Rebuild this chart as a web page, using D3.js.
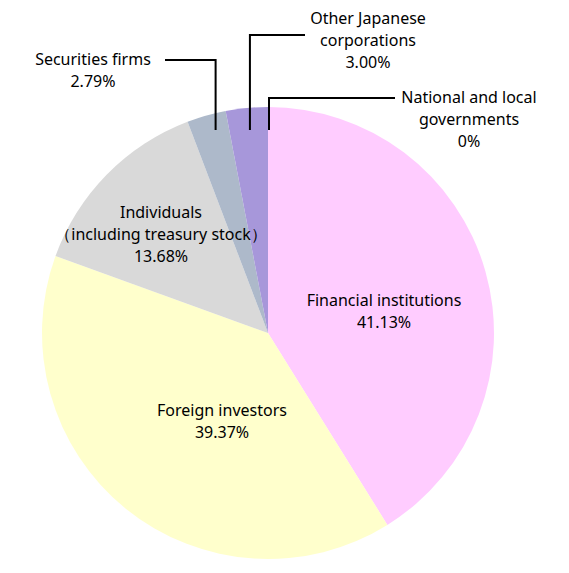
<!DOCTYPE html>
<html>
<head>
<script src="https://d3js.org/d3.v7.min.js"></script>
<style>
body { margin:0; background:#fff; }
svg text { font-family:"Noto Sans", "Open Sans", sans-serif; font-size:16px; fill:#000; }
</style>
</head>
<body>
<script>
var categories = ["Financial institutions", "Foreign investors", "Individuals\uff08including treasury stock\uff09", "Securities firms", "Other Japanese corporations", "National and local governments"];
var values = [41.13, 39.37, 13.68, 2.79, 3.00, 0];
var labels = ["41.13%", "39.37%", "13.68%", "2.79%", "3.00%", "0%"];
var colors = ["#ffccff", "#ffffcc", "#d9d9d9", "#adb9ca", "#a797da", "#8faadc"];

var w = 569, h = 573, cx = 268, cy = 333, r = 226;
var svg = d3.select("body").append("svg").attr("width", w).attr("height", h);
var g = svg.append("g").attr("transform", "translate(" + cx + "," + cy + ")");

var pie = d3.pie().sort(null).value(function(d){ return d; });
var arcs = pie(values);
var arc = d3.arc().innerRadius(0).outerRadius(r);

g.selectAll("path").data(arcs).enter().append("path")
  .attr("d", arc)
  .attr("fill", function(d, i){ return colors[i]; });

function block(x, y, lines, anchor) {
  var t = svg.append("text").attr("x", x).attr("y", y).attr("text-anchor", anchor || "middle");
  lines.forEach(function(l, k){
    t.append("tspan").attr("x", x).attr("dy", k ? 22 : 0).text(l);
  });
}

// inner labels
block(384, 306, ["Financial institutions", labels[0]]);
block(222, 416, ["Foreign investors", labels[1]]);
block(161, 218, ["Individuals", "\uff08including treasury stock\uff09", labels[2]]);

// outer labels with leader lines
var mid = function(i){ var a = (arcs[i].startAngle + arcs[i].endAngle) / 2; return cx + Math.sin(a) * r * 0.85; };
var lineStyle = function(p){ p.attr("fill", "none").attr("stroke", "#000").attr("stroke-width", 2); };

svg.append("path").attr("d", "M" + mid(3) + ",130V60H165").call(lineStyle);
block(93, 65, ["Securities firms", labels[3]]);

svg.append("path").attr("d", "M" + mid(4) + ",130V35H305").call(lineStyle);
block(368, 24, ["Other Japanese", "corporations", labels[4]]);

svg.append("path").attr("d", "M" + (cx + 1) + ",130V98H395").call(lineStyle);
block(469, 103, ["National and local", "governments", labels[5]]);
</script>
</body>
</html>
